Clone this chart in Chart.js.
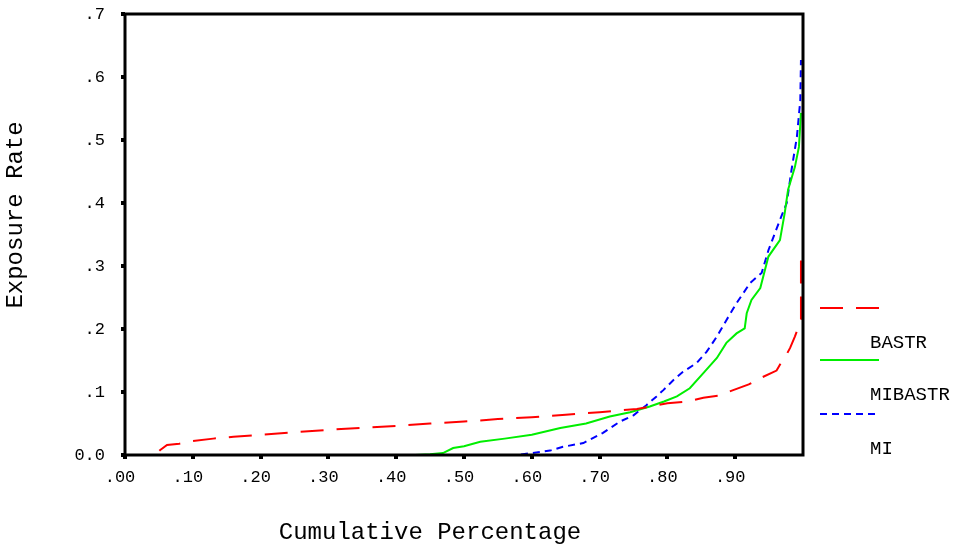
<!DOCTYPE html>
<html>
<head>
<meta charset="utf-8">
<script src="https://cdn.jsdelivr.net/npm/chart.js@4/dist/chart.umd.min.js"></script>
<style>
  body { margin: 0; background: #fff; }
</style>
</head>
<body>
<canvas id="chart" width="955" height="550"></canvas>
<script>
// cumulative percentage (x) and exposure rate (y)
const bastrPct = [0, 0.044, 0.052, 0.062, 0.08, 0.1, 0.13, 0.16, 0.2, 0.25, 0.3, 0.35, 0.4, 0.45, 0.5, 0.55, 0.6, 0.65, 0.7, 0.755, 0.8, 0.83, 0.853, 0.875, 0.897, 0.92, 0.937, 0.961, 0.967, 0.973, 0.981, 0.988, 0.994, 0.997, 0.997];
const bastrRate = [0, 0, 0.008, 0.016, 0.018, 0.022, 0.026, 0.029, 0.032, 0.036, 0.040, 0.043, 0.046, 0.050, 0.053, 0.057, 0.060, 0.064, 0.068, 0.073, 0.082, 0.085, 0.091, 0.094, 0.103, 0.112, 0.122, 0.134, 0.145, 0.154, 0.17, 0.188, 0.205, 0.215, 0.317];

const mibastrPct = [0, 0.428, 0.45, 0.469, 0.484, 0.5, 0.524, 0.56, 0.6, 0.642, 0.68, 0.715, 0.745, 0.774, 0.795, 0.814, 0.833, 0.853, 0.873, 0.887, 0.902, 0.914, 0.917, 0.924, 0.937, 0.949, 0.966, 0.973, 0.978, 0.988, 0.994, 0.997];
const mibastrRate = [0, 0, 0.001, 0.003, 0.011, 0.014, 0.021, 0.026, 0.032, 0.043, 0.05, 0.061, 0.068, 0.077, 0.085, 0.093, 0.106, 0.13, 0.154, 0.178, 0.193, 0.201, 0.225, 0.246, 0.265, 0.315, 0.341, 0.384, 0.421, 0.457, 0.489, 0.543];

const miPct = [0, 0.578, 0.6, 0.627, 0.646, 0.676, 0.705, 0.73, 0.75, 0.769, 0.784, 0.794, 0.809, 0.823, 0.843, 0.858, 0.873, 0.887, 0.902, 0.922, 0.939, 0.949, 0.966, 0.976, 0.983, 0.991, 0.996, 0.997];
const miRate = [0, 0, 0.003, 0.007, 0.013, 0.019, 0.035, 0.053, 0.063, 0.079, 0.093, 0.103, 0.119, 0.132, 0.146, 0.164, 0.188, 0.214, 0.241, 0.273, 0.289, 0.325, 0.373, 0.4, 0.452, 0.505, 0.563, 0.627];

const seriesNames = ["BASTR", "MIBASTR", "MI"];
const xTitle = "Cumulative Percentage";
const yTitle = "Exposure Rate";

const FONT = "'Liberation Mono', 'DejaVu Sans Mono', monospace";

function toPoints(xs, ys) {
  return xs.map((x, i) => ({ x: x, y: ys[i] }));
}

// frame, axis titles and the SPSS-style legend on the right
const decorations = {
  id: "decorations",
  afterDatasetsDraw(chart) {
    const { ctx, chartArea: a } = chart;
    ctx.save();
    ctx.strokeStyle = "#000";
    ctx.lineWidth = 3;
    ctx.strokeRect(a.left, a.top, a.right - a.left, a.bottom - a.top);

    ctx.fillStyle = "#000";
    ctx.font = "24px " + FONT;
    ctx.textAlign = "center";
    ctx.textBaseline = "middle";
    ctx.fillText(xTitle, 430, 533);
    ctx.translate(16, 215);
    ctx.rotate(-Math.PI / 2);
    ctx.fillText(yTitle, 0, 0);
    ctx.restore();

    ctx.save();
    const lineY = [308, 360, 414];
    chart.data.datasets.forEach((ds, i) => {
      ctx.strokeStyle = ds.borderColor;
      ctx.lineWidth = 2;
      ctx.setLineDash(ds.borderDash || []);
      ctx.beginPath();
      ctx.moveTo(a.right + 17, lineY[i]);
      ctx.lineTo(a.right + 76, lineY[i]);
      ctx.stroke();
      ctx.setLineDash([]);
      ctx.fillStyle = "#000";
      ctx.font = "19px " + FONT;
      ctx.textAlign = "left";
      ctx.textBaseline = "middle";
      ctx.fillText(ds.label, a.right + 67, lineY[i] + 35);
    });
    ctx.restore();
  }
};

const ctx = document.getElementById("chart").getContext("2d");

new Chart(ctx, {
  type: "scatter",
  data: {
    datasets: [
      {
        label: seriesNames[0],
        data: toPoints(bastrPct, bastrRate),
        borderColor: "#ff0000",
        borderDash: [23, 13],
      },
      {
        label: seriesNames[1],
        data: toPoints(mibastrPct, mibastrRate),
        borderColor: "#00ee00",
      },
      {
        label: seriesNames[2],
        data: toPoints(miPct, miRate),
        borderColor: "#0000ff",
        borderDash: [7, 5],
      },
    ],
  },
  options: {
    responsive: false,
    animation: false,
    showLine: true,
    elements: {
      point: { radius: 0 },
      line: { borderWidth: 2, tension: 0 },
    },
    layout: { padding: { left: 0, top: 14, right: 152, bottom: 0 } },
    plugins: {
      legend: { display: false },
      tooltip: { enabled: false },
    },
    scales: {
      x: {
        type: "linear",
        min: 0,
        max: 1,
        afterFit: (s) => { s.height = 95; },
        afterBuildTicks: (s) => { s.ticks = s.ticks.filter((t) => t.value < 0.95); },
        border: { display: false },
        grid: { drawOnChartArea: false, color: "#000", lineWidth: 4, tickLength: 4 },
        ticks: {
          stepSize: 0.1,
          color: "#000",
          font: { family: FONT, size: 17 },
          padding: 8,
          labelOffset: -5,
          maxRotation: 0,
          callback: (v) => "." + String(Math.round(v * 100)).padStart(2, "0"),
        },
      },
      y: {
        min: 0,
        max: 0.7,
        afterFit: (s) => { s.width = 125; s.paddingTop = 0; s.paddingBottom = 0; },
        border: { display: false },
        grid: { drawOnChartArea: false, color: "#000", lineWidth: 4, tickLength: 4 },
        ticks: {
          stepSize: 0.1,
          color: "#000",
          font: { family: FONT, size: 17 },
          padding: 16,
          callback: (v) => (v === 0 ? "0.0" : "." + Math.round(v * 10)),
        },
      },
    },
  },
  plugins: [decorations],
});
</script>
</body>
</html>
